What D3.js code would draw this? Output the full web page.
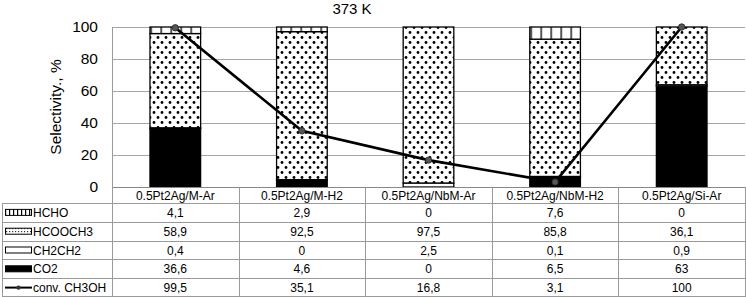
<!DOCTYPE html>
<html>
<head>
<meta charset="utf-8">
<script src="https://cdn.jsdelivr.net/npm/d3@7"></script>
<style>
  body { margin: 0; background: #fff; }
  svg { font-family: Arial, "Liberation Sans", sans-serif; }
</style>
</head>
<body>
<div id="chart"></div>
<script>
// data
const categories = ["0.5Pt2Ag/M-Ar", "0.5Pt2Ag/M-H2", "0.5Pt2Ag/NbM-Ar", "0.5Pt2Ag/NbM-H2", "0.5Pt2Ag/Si-Ar"];
const hcho = [4.1, 2.9, 0, 7.6, 0];
const hcooch3 = [58.9, 92.5, 97.5, 85.8, 36.1];
const ch2ch2 = [0.4, 0, 2.5, 0.1, 0.9];
const co2 = [36.6, 4.6, 0, 6.5, 63];
const conv = [99.5, 35.1, 16.8, 3.1, 100];
const yTicks = [0, 20, 40, 60, 80, 100];
const rowNames = ["HCHO", "HCOOCH3", "CH2CH2", "CO2", "conv. CH3OH"];

const width = 746, height = 297;
const margin = {top: 27, right: 1, bottom: 110, left: 112};

const svg = d3.select("#chart").append("svg")
    .attr("width", width).attr("height", height);

const defs = svg.append("defs");
// dotted fill
const dots = defs.append("pattern").attr("id", "dots")
    .attr("patternUnits", "userSpaceOnUse").attr("width", 8).attr("height", 10);
dots.append("rect").attr("width", 8).attr("height", 10).attr("fill", "#fff");
dots.append("circle").attr("cx", 2).attr("cy", 2.5).attr("r", 1.4).attr("fill", "#000");
dots.append("circle").attr("cx", 6).attr("cy", 7.5).attr("r", 1.4).attr("fill", "#000");
// vertical lines fill
const vlines = defs.append("pattern").attr("id", "vlines")
    .attr("patternUnits", "userSpaceOnUse").attr("width", 10).attr("height", 10)
    .attr("x", 150.5);
vlines.append("rect").attr("width", 10).attr("height", 10).attr("fill", "#fff");
vlines.append("rect").attr("x", 0).attr("width", 1.3).attr("height", 10).attr("fill", "#000");
// small versions for the table legend
const dotsSmall = defs.append("pattern").attr("id", "dotsSmall")
    .attr("patternUnits", "userSpaceOnUse").attr("width", 3).attr("height", 3);
dotsSmall.append("rect").attr("width", 3).attr("height", 3).attr("fill", "#fff");
dotsSmall.append("rect").attr("width", 1.2).attr("height", 1.2).attr("fill", "#333");
const vSmall = defs.append("pattern").attr("id", "vSmall")
    .attr("patternUnits", "userSpaceOnUse").attr("width", 4).attr("height", 4).attr("x", 5);
vSmall.append("rect").attr("width", 4).attr("height", 4).attr("fill", "#fff");
vSmall.append("rect").attr("width", 1.2).attr("height", 4).attr("fill", "#000");

const x = d3.scaleBand().domain(categories)
    .range([margin.left, width - margin.right])
    .paddingInner(0.6).paddingOuter(0.3);
const y = d3.scaleLinear().domain([0, 100])
    .range([height - margin.bottom, margin.top]);

// grid
svg.append("g").selectAll("line").data(yTicks.filter(d => d > 0)).join("line")
    .attr("x1", margin.left).attr("x2", width - margin.right)
    .attr("y1", d => y(d) + 0.5).attr("y2", d => y(d) + 0.5)
    .attr("stroke", "#a6a6a6");

// y axis
svg.append("g")
    .attr("transform", `translate(${margin.left},0)`)
    .call(d3.axisLeft(y).tickValues(yTicks).tickSize(0).tickPadding(14))
    .call(g => g.select(".domain").remove())
    .call(g => g.selectAll("text").attr("font-size", 15.5).attr("fill", "#000")
        .attr("font-family", "Arial, 'Liberation Sans', sans-serif"));

svg.append("text")
    .attr("transform", `translate(61,${(y(0) + y(100)) / 2}) rotate(-90)`)
    .attr("text-anchor", "middle").attr("font-size", 15.5)
    .text("Selectivity., %");

svg.append("text")
    .attr("x", 352).attr("y", 14).attr("text-anchor", "middle")
    .attr("font-size", 15).text("373 K");

// stacked bars
const rows = categories.map((c, i) => ({cat: c, CO2: co2[i], CH2CH2: ch2ch2[i], HCOOCH3: hcooch3[i], HCHO: hcho[i]}));
const keys = ["CO2", "CH2CH2", "HCOOCH3", "HCHO"];
const fills = {CO2: "#000", CH2CH2: "#fff", HCOOCH3: "url(#dots)", HCHO: "url(#vlines)"};
const stacked = d3.stack().keys(keys)(rows);

svg.append("g").selectAll("g").data(stacked).join("g")
    .attr("fill", d => fills[d.key])
    .selectAll("rect").data(d => d.filter(p => p[1] - p[0] > 0)).join("rect")
    .attr("x", d => x(d.data.cat))
    .attr("y", d => y(d[1]))
    .attr("width", x.bandwidth())
    .attr("height", d => y(d[0]) - y(d[1]))
    .attr("stroke", "#000").attr("stroke-width", 1.3);

// conversion line
const cx = c => x(c) + x.bandwidth() / 2;
svg.append("path")
    .datum(conv)
    .attr("fill", "none").attr("stroke", "#000").attr("stroke-width", 2.6)
    .attr("d", d3.line().x((d, i) => cx(categories[i])).y(d => y(d)));
svg.append("g").selectAll("circle").data(conv).join("circle")
    .attr("cx", (d, i) => cx(categories[i])).attr("cy", d => y(d))
    .attr("r", 3.2).attr("fill", "#555").attr("stroke", "#222").attr("stroke-width", 0.8);

// data table
const tableTop = y(0), headerH = 16, tableBottom = 297;
const rowY = d3.scaleBand().domain(rowNames).range([tableTop + headerH, tableBottom]);
const colLeft = 2;
const fmt = d3.formatLocale({decimal: ",", thousands: " ", grouping: [3], currency: ["", ""]}).format("~f");
const grid = svg.append("g").attr("stroke", "#9a9a9a").attr("fill", "none");

// horizontal rules
grid.append("line").attr("x1", margin.left).attr("x2", width - margin.right)
    .attr("y1", tableTop + 0.5).attr("y2", tableTop + 0.5).attr("stroke", "#888");
grid.selectAll("line.h").data(rowNames).join("line").attr("class", "h")
    .attr("x1", colLeft).attr("x2", width - margin.right)
    .attr("y1", d => Math.round(rowY(d)) + 0.5).attr("y2", d => Math.round(rowY(d)) + 0.5);
grid.append("line").attr("x1", colLeft).attr("x2", width - margin.right)
    .attr("y1", tableBottom - 0.5).attr("y2", tableBottom - 0.5);
// vertical rules
const vx = categories.map(c => x(c) - x.step() * x.paddingInner() / 2).concat([width - margin.right]);
grid.selectAll("line.v").data(vx).join("line").attr("class", "v")
    .attr("x1", d => Math.round(d) + 0.5).attr("x2", d => Math.round(d) + 0.5)
    .attr("y1", (d, i) => i === 0 ? margin.top : tableTop).attr("y2", tableBottom);
grid.append("line").attr("x1", colLeft + 0.5).attr("x2", colLeft + 0.5)
    .attr("y1", tableTop + headerH).attr("y2", tableBottom);

// header
svg.append("g").selectAll("text").data(categories).join("text")
    .attr("x", d => cx(d)).attr("y", tableTop + headerH / 2 + 4.5)
    .attr("text-anchor", "middle").attr("font-size", 12).text(d => d);

// values
const series = [hcho, hcooch3, ch2ch2, co2, conv];
series.forEach((vals, r) => {
    svg.append("g").selectAll("text").data(vals).join("text")
        .attr("x", (d, i) => cx(categories[i]))
        .attr("y", rowY(rowNames[r]) + rowY.bandwidth() / 2 + 4.5)
        .attr("text-anchor", "middle").attr("font-size", 12)
        .text(d => fmt(d));
});

// row labels with legend keys
const leg = svg.append("g");
rowNames.forEach((name, r) => {
    const cy = rowY(name) + rowY.bandwidth() / 2;
    if (r < 4) {
        const f = [ "url(#vSmall)", "url(#dotsSmall)", "#fff", "#000"][r];
        leg.append("rect").attr("x", 5.5).attr("y", cy - 3).attr("width", 26).attr("height", 6)
            .attr("fill", f).attr("stroke", "#000").attr("stroke-width", 1);
    } else {
        leg.append("line").attr("x1", 5).attr("x2", 32).attr("y1", cy).attr("y2", cy)
            .attr("stroke", "#000").attr("stroke-width", 2);
        leg.append("circle").attr("cx", 18.5).attr("cy", cy).attr("r", 2.2).attr("fill", "#333");
    }
    leg.append("text").attr("x", 33).attr("y", cy + 4.5).attr("font-size", 12).text(name);
});
</script>
</body>
</html>
